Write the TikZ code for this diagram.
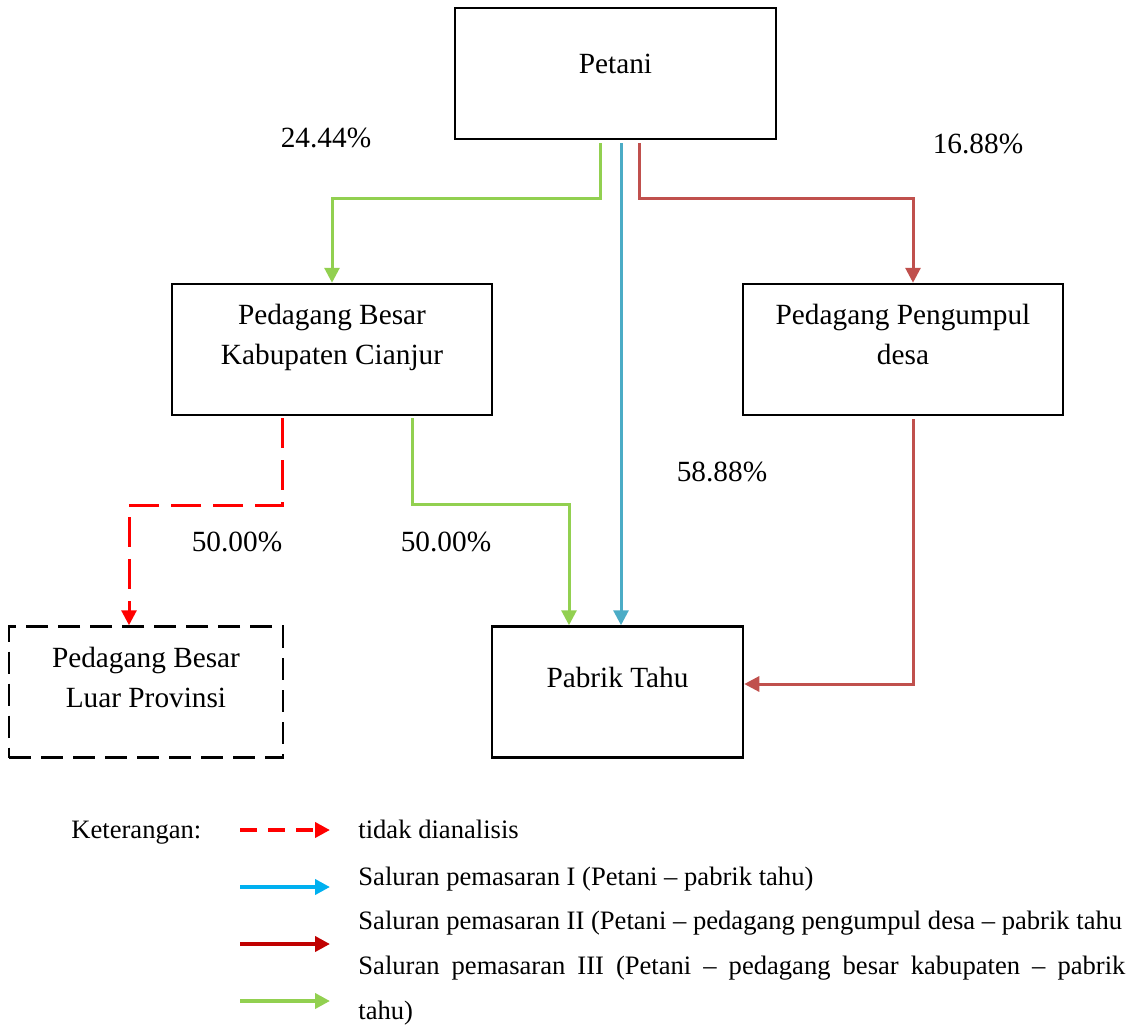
\documentclass[tikz,border=0pt]{standalone}
\usepackage{fontspec}
\setmainfont{Liberation Serif}
\usetikzlibrary{arrows.meta}

\definecolor{chgreen}{HTML}{92D050}
\definecolor{chblue}{HTML}{4BACC6}
\definecolor{chred}{HTML}{C0504D}
\definecolor{lgblue}{HTML}{00B0F0}
\definecolor{lgred}{HTML}{C00000}

\tikzset{
  box/.style={draw, line width=1.25pt, align=center, inner sep=0pt,
    minimum width=160pt, minimum height=65.5pt, text depth=15pt,
    font=\fontsize{14.65pt}{20pt}\selectfont},
  flow/.style={line width=1.5pt, -{Triangle[width=7.5pt,length=7.5pt]}},
  pct/.style={font=\fontsize{14.65pt}{20pt}\selectfont},
  legtext/.style={anchor=west, inner sep=0pt, text height=9.5pt, text depth=3pt,
    font=\fontsize{13.3pt}{16pt}\selectfont},
  legdash/.style={red, dash pattern=on 8.5pt off 5.5pt},
  legblue/.style={lgblue},
  legdark/.style={lgred},
  leggreen/.style={chgreen},
}

\begin{document}
\begin{tikzpicture}[x=0.5pt, y=-0.5pt]
        \useasboundingbox (0,0) rectangle (1136,1029);

        \begin{scope}[every node/.style={box}]
          \node (petani) at (615.5,73.5) [minimum width=160.5pt, text depth=10pt] {Petani};
          \node (pbkc)   at (332,349.5)  {Pedagang Besar\\Kabupaten Cianjur};
          \node (ppd)    at (903,349.5)  {Pedagang Pengumpul\\desa};
          \node (pabrik) at (617.5,692)  [minimum width=125.5pt] {Pabrik Tahu};
          \node (luar)   at (146,692)    [minimum width=137pt, dash pattern=on 11pt off 5pt] {Pedagang Besar\\Luar Provinsi};
        \end{scope}

        \begin{scope}[every node/.style={pct}]
          \node (p1) at (326,138) {24.44\%};
          \node (p2) at (978,144) {16.88\%};
          \node (p3) at (722,472) {58.88\%};
          \node (p4) at (237,542) {50.00\%};
          \node (p5) at (446,542) {50.00\%};
        \end{scope}

        \draw[flow, chgreen] ([xshift=-7.5pt,yshift=-1.5pt]petani.south) -- ++(0,55) -| (pbkc.north);
        \draw[flow, chblue]  ([xshift=2.75pt,yshift=-1.5pt]petani.south) -- ([xshift=2.75pt]petani.south |- pabrik.north);
        \draw[flow, chred]   ([xshift=11.75pt,yshift=-1.5pt]petani.south) -- ++(0,55) -| ([xshift=5pt]ppd.north);
        \draw[flow, chgreen] ([xshift=40pt,yshift=-1pt]pbkc.south) -- ++(0,86) -| ([xshift=-24.25pt]pabrik.north);
        \draw[flow, red, dash pattern=on 15pt off 6pt] ([xshift=-25pt,yshift=-1pt]pbkc.south) -- ++(0,87) -| ([xshift=-8.5pt]luar.north);
        \draw[flow, chred]   ([xshift=5pt,yshift=-1.5pt]ppd.south) |- ([yshift=4pt]pabrik.east);

        \begin{scope}[every node/.style={legtext}]
          \node (keter) at (71,832)  {Keterangan:};
          \node (k1)    at (358,832) {tidak dianalisis};
          \node (k2)    at (358,879) {Saluran pemasaran I (Petani – pabrik tahu)};
          \node (k3)    at (358,923) {Saluran pemasaran II (Petani – pedagang pengumpul desa – pabrik tahu};
          \node (k4)    at (358,968) {\makebox[383.5pt][s]{Saluran pemasaran III (Petani – pedagang besar kabupaten – pabrik}};
          \node (k5)    at (358,1013) {tahu)};
        \end{scope}

        \foreach \y/\sty [count=\i] in {830/legdash, 887/legblue, 944/legdark, 1001/leggreen} {
          \coordinate (a\i) at (240,\y);
          \coordinate (b\i) at (330,\y);
          \draw[flow, line width=2pt, \sty] (a\i) -- (b\i);
        }

      \end{tikzpicture}
\end{document}
